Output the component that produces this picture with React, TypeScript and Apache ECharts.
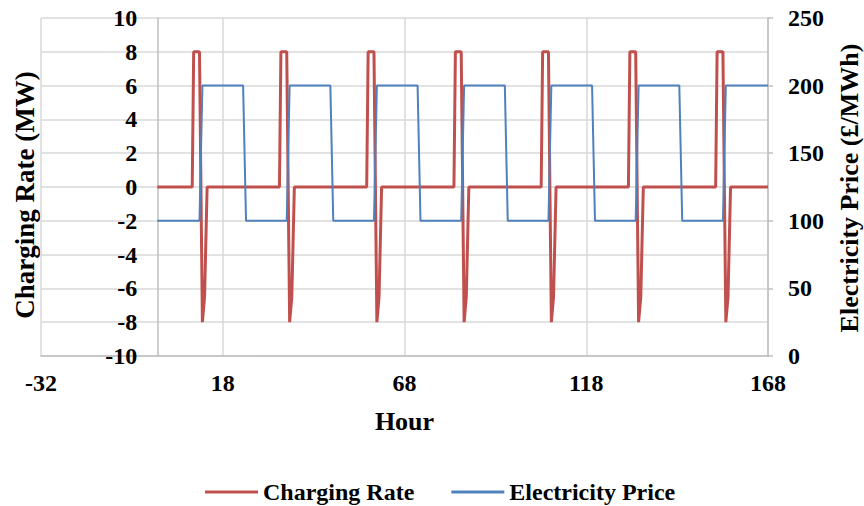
import React, { useEffect, useRef } from "react";
import * as echarts from "echarts";

// Hour and value breakpoints
const chargingHours = [
  0, 9.6, 10, 11.6, 12.4, 13, 13.7,
  33.6, 34, 35.6, 36.4, 37, 37.7,
  57.6, 58, 59.6, 60.4, 61, 61.7,
  81.6, 82, 83.6, 84.4, 85, 85.7,
  105.6, 106, 107.6, 108.4, 109, 109.7,
  129.6, 130, 131.6, 132.4, 133, 133.7,
  153.6, 154, 155.6, 156.4, 157, 157.7,
  168,
];
const chargingRate = [
  0, 0, 8, 8, -8, -6.5, 0,
  0, 8, 8, -8, -6.5, 0,
  0, 8, 8, -8, -6.5, 0,
  0, 8, 8, -8, -6.5, 0,
  0, 8, 8, -8, -6.5, 0,
  0, 8, 8, -8, -6.5, 0,
  0, 8, 8, -8, -6.5, 0,
  0,
];
const priceHours = [
  0, 11.6, 12.4, 23.6, 24.4,
  35.6, 36.4, 47.6, 48.4,
  59.6, 60.4, 71.6, 72.4,
  83.6, 84.4, 95.6, 96.4,
  107.6, 108.4, 119.6, 120.4,
  131.6, 132.4, 143.6, 144.4,
  155.6, 156.4, 168,
];
const priceValues = [
  100, 100, 200, 200, 100,
  100, 200, 200, 100,
  100, 200, 200, 100,
  100, 200, 200, 100,
  100, 200, 200, 100,
  100, 200, 200, 100,
  100, 200, 200,
];

const seriesNames = ["Charging Rate", "Electricity Price"];
const xAxisTitle = "Hour";
const leftAxisTitle = "Charging Rate (MW)";
const rightAxisTitle = "Electricity Price (£/MWh)";

const X_MIN = -32;
const X_MAX = 168;
const X_STEP = 50;

const FONT = "'Liberation Serif', 'Times New Roman', serif";
const RED = "#C0504D";
const BLUE = "#4F81BD";
const GRID = "#D9D9D9";
const AXIS = "#BFBFBF";

const GRID_LEFT = 41;
const GRID_RIGHT = 96;
const WIDTH = 864;
const HEIGHT = 506;

export default function App() {
  const ref = useRef<HTMLDivElement>(null);

  useEffect(() => {
    if (!ref.current) return;
    const chart = echarts.init(ref.current, undefined, { renderer: "svg" });
    const labelStyle = {
      fontFamily: FONT,
      fontWeight: "bold" as const,
      fontSize: 24,
      color: "#000",
    };
    // the left value axis crosses the hour axis at hour 0
    const plotWidth = WIDTH - GRID_LEFT - GRID_RIGHT;
    const crossOffset = -((0 - X_MIN) / (X_MAX - X_MIN)) * plotWidth;

    chart.setOption({
      animation: false,
      backgroundColor: "#fff",
      grid: {
        left: GRID_LEFT,
        right: GRID_RIGHT,
        top: 18,
        bottom: 150,
        containLabel: false,
        outerBoundsMode: "none",
      },
      legend: {
        data: seriesNames,
        left: 200,
        top: 475,
        icon: "rect",
        itemWidth: 53,
        itemHeight: 3,
        itemGap: 37,
        textStyle: { ...labelStyle, fontSize: 24 },
      },
      xAxis: {
        type: "value",
        min: X_MIN,
        max: X_MAX,
        interval: X_STEP,
        name: xAxisTitle,
        nameLocation: "middle",
        nameGap: 52,
        nameTextStyle: { ...labelStyle, fontSize: 26 },
        axisLine: { onZero: false, lineStyle: { color: AXIS, width: 1.5 } },
        axisTick: { show: false },
        axisLabel: { ...labelStyle, margin: 15 },
        splitLine: { show: true, lineStyle: { color: GRID, width: 1.5 } },
      },
      yAxis: [
        {
          type: "value",
          min: -10,
          max: 10,
          interval: 2,
          position: "left",
          offset: crossOffset,
          axisLine: { show: true, onZero: false, lineStyle: { color: AXIS, width: 1.5 } },
          axisTick: { show: false },
          axisLabel: { ...labelStyle, margin: 20 },
          splitLine: { show: true, lineStyle: { color: GRID, width: 1.5 } },
        },
        {
          type: "value",
          min: 0,
          max: 250,
          interval: 50,
          position: "right",
          axisLine: { show: true, onZero: false, lineStyle: { color: AXIS, width: 1.5 } },
          axisTick: { show: true, inside: false, length: 5, lineStyle: { color: AXIS, width: 1.5 } },
          axisLabel: { ...labelStyle, margin: 20 },
          splitLine: { show: false },
        },
      ],
      graphic: [
        {
          type: "text",
          x: 25,
          y: 195,
          rotation: Math.PI / 2,
          style: {
            text: leftAxisTitle,
            fontFamily: FONT,
            fontWeight: "bold",
            fontSize: 27,
            fill: "#000",
            align: "center",
            verticalAlign: "middle",
          },
        },
        {
          type: "text",
          x: 849,
          y: 188,
          rotation: Math.PI / 2,
          style: {
            text: rightAxisTitle,
            fontFamily: FONT,
            fontWeight: "bold",
            fontSize: 26,
            fill: "#000",
            align: "center",
            verticalAlign: "middle",
          },
        },
      ],
      series: [
        {
          name: seriesNames[0],
          type: "line",
          yAxisIndex: 0,
          showSymbol: false,
          symbol: "none",
          color: RED,
          lineStyle: { color: RED, width: 3 },
          data: chargingHours.map((h, i) => [h, chargingRate[i]]),
        },
        {
          name: seriesNames[1],
          type: "line",
          yAxisIndex: 1,
          showSymbol: false,
          symbol: "none",
          color: BLUE,
          lineStyle: { color: BLUE, width: 2 },
          data: priceHours.map((h, i) => [h, priceValues[i]]),
        },
      ],
    });
    return () => chart.dispose();
  }, []);

  return (
    <div
      ref={ref}
      style={{ position: "fixed", left: 0, top: 0, width: WIDTH, height: HEIGHT }}
    />
  );
}
